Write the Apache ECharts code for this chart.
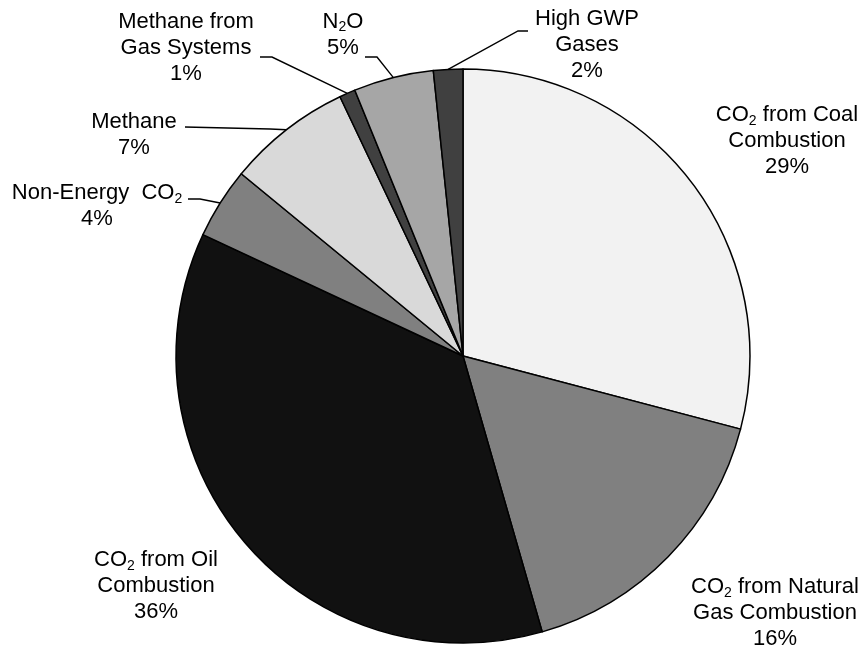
<!DOCTYPE html>
<html>
<head>
<meta charset="utf-8">
<script src="https://cdn.jsdelivr.net/npm/echarts@6/dist/echarts.min.js"></script>
<style>
  html, body { margin: 0; padding: 0; background: #ffffff; }
  #chart { width: 861px; height: 648px; }
</style>
</head>
<body>
<div id="chart"></div>
<script>
// Emission sources, clockwise from twelve o'clock
const categories = [
  'CO2 from Coal Combustion',
  'CO2 from Natural Gas Combustion',
  'CO2 from Oil Combustion',
  'Non-Energy CO2',
  'Methane',
  'Methane from Gas Systems',
  'N2O',
  'High GWP Gases'
];

// Label text for each slice ({sub|...} marks a subscript)
const labelTexts = [
  'CO{sub|2} from Coal\nCombustion',
  'CO{sub|2} from Natural\nGas Combustion',
  'CO{sub|2} from Oil\nCombustion',
  'Non-Energy  CO{sub|2}',
  'Methane',
  'Methane from\nGas Systems',
  'N{sub|2}O',
  'High GWP\nGases'
];

// Share of total emissions, percent
const shares = [29.1, 16.45, 36.4, 4.0, 7.0, 0.9, 4.5, 1.65];

// Grey-scale fill per slice
const sliceColors = ['#f2f2f2', '#808080', '#111111', '#808080', '#d9d9d9', '#404040', '#a6a6a6', '#404040'];

// Where each label block is centred
const labelAnchors = [
  [787, 141], [775, 613], [156, 586], [97, 206],
  [134, 134.5], [186, 48], [343, 34.5], [587, 45]
];

// Leader line bend and end points (none for labels sitting beside their slice)
const leaderBends = [
  null, null, null,
  [[200, 199], [188, 199]],
  [[270, 129], [185, 127]],
  [[272, 57], [260, 57]],
  [[377, 57], [365, 57]],
  [[518, 31], [528, 31]]
];

const FONT = "'Liberation Sans', Arial, Helvetica, sans-serif";

const chart = echarts.init(document.getElementById('chart'), null, { renderer: 'canvas' });

const pieData = categories.map(function (name, i) {
  return {
    name: name,
    value: shares[i],
    itemStyle: { color: sliceColors[i] },
    labelLine: { show: leaderBends[i] !== null }
  };
});

chart.setOption({
  backgroundColor: '#ffffff',
  animation: false,
  series: [{
    type: 'pie',
    center: [463, 356],
    radius: 287,
    startAngle: 90,
    clockwise: true,
    avoidLabelOverlap: false,
    data: pieData,
    itemStyle: { borderColor: '#000000', borderWidth: 1.5 },
    emphasis: { disabled: true },
    label: {
      show: true,
      position: 'outside',
      color: '#000000',
      fontFamily: FONT,
      fontSize: 22,
      lineHeight: 26,
      align: 'center',
      formatter: function (p) {
        return labelTexts[p.dataIndex] + '\n' + Math.round(p.percent) + '%';
      },
      rich: {
        sub: {
          fontFamily: FONT,
          fontSize: 14,
          lineHeight: 14,
          verticalAlign: 'bottom',
          color: '#000000'
        }
      }
    },
    labelLine: {
      show: true,
      lineStyle: { color: '#000000', width: 1.4 }
    },
    labelLayout: function (p) {
      const i = p.dataIndex;
      const out = {
        x: labelAnchors[i][0],
        y: labelAnchors[i][1],
        align: 'center',
        verticalAlign: 'middle'
      };
      const bend = leaderBends[i];
      if (bend && p.labelLinePoints) {
        out.labelLinePoints = [p.labelLinePoints[0], bend[0], bend[1]];
      }
      return out;
    }
  }]
});
</script>
</body>
</html>
